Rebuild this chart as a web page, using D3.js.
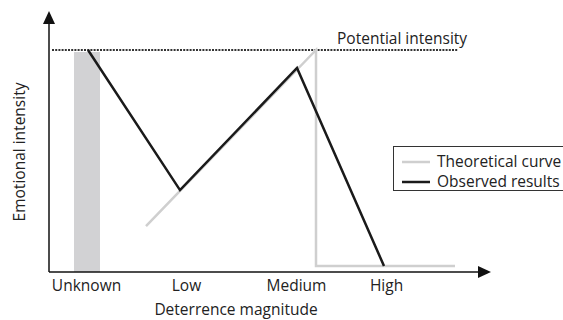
<!DOCTYPE html>
<html>
<head>
<meta charset="utf-8">
<script src="https://cdn.jsdelivr.net/npm/d3@7"></script>
<style>
  body { margin: 0; background: #fff; }
  text { font-family: "Open Sans", sans-serif; fill: #222; }
</style>
</head>
<body>
<svg id="chart" width="563" height="320"></svg>
<script>
// categories on the deterrence axis and where they sit
const categories = ["Unknown", "Low", "Medium", "High"];
const categoryPos = [0, 1, 2.1, 3];

// observed results (black line)
const observedX = [0.02, 0.94, 2.11, 2.98];
const observedY = [1.0, 0.369, 0.919, 0.027];

// theoretical curve (grey line)
const theoryX = [0.6, 2.3, 2.3, 3.69];
const theoryY = [0.207, 1.0, 0.027, 0.027];

// shaded "unknown" band and potential intensity level
const bandX = [-0.12, 0.14];
const potential = 1.0;
const potentialX = [-0.34, 3.72];

const legendLabels = ["Theoretical curve", "Observed results"];

const svg = d3.select("#chart");
const fs = 15.5;

const x = d3.scaleLinear().domain([-0.37, 4.04]).range([49, 490]);
const y = d3.scaleLinear().domain([0, 1]).range([272, 50]);

// shaded band
svg.append("rect")
    .attr("x", x(bandX[0]))
    .attr("y", y(potential) + 2)
    .attr("width", x(bandX[1]) - x(bandX[0]))
    .attr("height", y(0) - y(potential) - 2)
    .attr("fill", "#d2d2d4");

// potential intensity dotted line
svg.append("line")
    .attr("x1", x(potentialX[0])).attr("x2", x(potentialX[1]))
    .attr("y1", y(potential)).attr("y2", y(potential))
    .attr("stroke", "#333")
    .attr("stroke-width", 2)
    .attr("stroke-dasharray", "2,1.2");

svg.append("text")
    .attr("x", 337).attr("y", 44)
    .attr("font-size", fs)
    .text("Potential intensity");

const line = d3.line().x(d => x(d[0])).y(d => y(d[1]));

svg.append("path")
    .datum(d3.zip(theoryX, theoryY))
    .attr("d", line)
    .attr("fill", "none")
    .attr("stroke", "#cfcfcf")
    .attr("stroke-width", 2.5);

svg.append("path")
    .datum(d3.zip(observedX, observedY))
    .attr("d", line)
    .attr("fill", "none")
    .attr("stroke", "#1a1a1a")
    .attr("stroke-width", 2.5)
    .attr("stroke-linejoin", "miter");

// axes with arrow heads
const xAxis = d3.axisBottom(x).tickValues(categoryPos)
    .tickFormat((d, i) => categories[i]).tickSize(0).tickPadding(8);
const gx = svg.append("g").attr("transform", `translate(0,${y(0)})`).call(xAxis);
gx.select(".domain").remove();
gx.selectAll("text").attr("font-size", fs).attr("fill", "#222")
    .attr("font-family", "Open Sans, sans-serif");

svg.append("line")
    .attr("x1", x(-0.37)).attr("x2", 480)
    .attr("y1", y(0)).attr("y2", y(0))
    .attr("stroke", "#111").attr("stroke-width", 1.5);
svg.append("path")
    .attr("d", `M478,${y(0) - 6}L491,${y(0)}L478,${y(0) + 6}Z`)
    .attr("fill", "#111");

svg.append("line")
    .attr("x1", x(-0.37)).attr("x2", x(-0.37))
    .attr("y1", y(0)).attr("y2", 22)
    .attr("stroke", "#111").attr("stroke-width", 1.5);
svg.append("path")
    .attr("d", `M${x(-0.37) - 6},24L${x(-0.37)},11L${x(-0.37) + 6},24Z`)
    .attr("fill", "#111");

svg.append("text")
    .attr("x", 236).attr("y", 315)
    .attr("text-anchor", "middle")
    .attr("font-size", fs)
    .text("Deterrence magnitude");

svg.append("text")
    .attr("transform", "translate(25,152) rotate(-90)")
    .attr("text-anchor", "middle")
    .attr("font-size", fs)
    .text("Emotional intensity");

// legend
const legend = svg.append("g").attr("transform", "translate(393,146)");
legend.append("rect")
    .attr("x", 0.5).attr("y", 0.5)
    .attr("width", 180).attr("height", 44)
    .attr("fill", "#fff")
    .attr("stroke", "#333");
const legendColors = ["#cfcfcf", "#1a1a1a"];
legendLabels.forEach((label, i) => {
    legend.append("line")
        .attr("x1", 9).attr("x2", 37)
        .attr("y1", 16 + i * 20).attr("y2", 16 + i * 20)
        .attr("stroke", legendColors[i]).attr("stroke-width", 2.5);
    legend.append("text")
        .attr("x", 44).attr("y", 21 + i * 20)
        .attr("font-size", fs)
        .text(label);
});
</script>
</body>
</html>
